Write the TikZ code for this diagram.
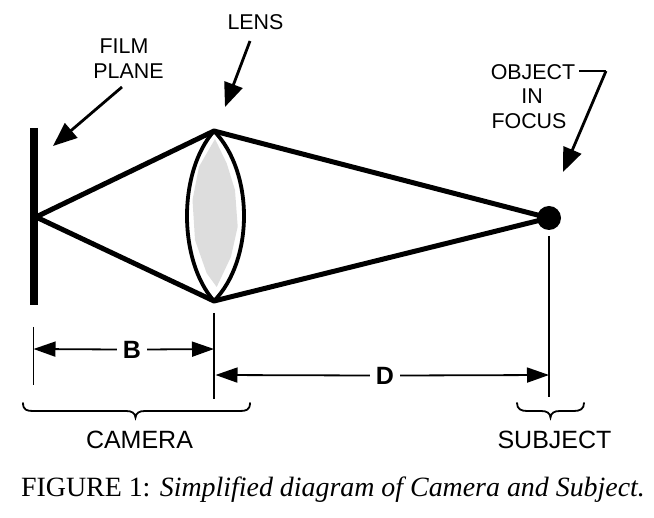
\documentclass[tikz,border=0pt]{standalone}
\usepackage{fontspec}
\setmainfont{Liberation Sans}
\newfontfamily\capfont{Liberation Serif}
\usetikzlibrary{arrows.meta}
\definecolor{lensgray}{HTML}{DDDDDD}
\tikzset{
  lbl/.style={inner sep=0pt,font=\fontsize{21.4}{23}\selectfont},
  dimlbl/.style={inner sep=0pt,font=\fontsize{25}{27}\selectfont\bfseries},
  ray/.style={line width=5pt,line join=round,line cap=round},
  lensedge/.style={line width=3.8pt},
  ext/.style={line width=1.8pt},
  dimhead/.style={line width=1.8pt},
  callout/.style={line width=2.8pt,-{Triangle[length=24pt,width=19pt]}},
  bracepath/.style={line width=1.8pt,line cap=round}
}
\begin{document}
\begin{tikzpicture}[x=1pt,y=-1pt]
\useasboundingbox (0,0) rectangle (654,518);
% named points
\coordinate (apex) at (36,217);
\coordinate (ltop) at (214,131);
\coordinate (lbot) at (214,301);
\coordinate (filmtop) at (34,128);
\coordinate (filmbot) at (34,305);
\coordinate (filmtip) at (53,146);
\coordinate (filmtail) at (122,87);
\coordinate (lenstip) at (225,107);
\coordinate (lenstail) at (250,41);
\coordinate (objstart) at (579,71);
\coordinate (objbend) at (606,71);
\coordinate (objtip) at (563,172);
\coordinate (e1a) at (33.5,327);
\coordinate (e1b) at (33.5,385);
\coordinate (e2a) at (214,313);
\coordinate (e2b) at (214,399);
\coordinate (e3a) at (549,236);
\coordinate (e3b) at (549,397);
\coordinate (ba) at (33.5,349);
\coordinate (bb) at (214,349);
\coordinate (da) at (215.5,375);
\coordinate (db) at (549,375);
% lens
\fill[lensgray] (215,139) -- (226.7,163.3) -- (235,190) -- (237.7,226.7) -- (231,256.7)
  -- (216.7,287) -- (206.7,273.3) -- (195,240) -- (192.5,200) -- (199,166.7) -- cycle;
\draw[lensedge] (ltop) .. controls (178,172) and (178,260) .. (lbot);
\draw[lensedge] (ltop) .. controls (254,172) and (254,260) .. (lbot);
% film plane
\draw[line width=8.5pt] (filmtop) -- (filmbot);
% subject
\node[circle,fill=black,minimum size=24pt,inner sep=0pt] (subj) at (549,218) {};
% rays
\draw[ray] (apex) -- (ltop) -- (subj.center) -- (lbot) -- cycle;
% callouts
\draw[callout] (filmtail) -- (filmtip);
\draw[callout] (lenstail) -- (lenstip);
\draw[line width=2pt] (objstart) -- (objbend);
\draw[callout] (objbend) -- (objtip);
% extension lines
\draw[ext] (e1a) -- (e1b);
\draw[ext] (e2a) -- (e2b);
\draw[ext] (e3a) -- (e3b);
% dimensions
\node[dimlbl] (B) at (132,349.5) {B};
\node[dimlbl] (D) at (385,375.5) {D};
\draw[dimhead,{Triangle[length=22pt,width=15pt]}-] (ba) -- ([xshift=-6pt]B.west);
\draw[dimhead,-{Triangle[length=22pt,width=15pt]}] ([xshift=6pt]B.east) -- (bb);
\draw[dimhead,{Triangle[length=22pt,width=15pt]}-] (da) -- ([xshift=-6pt]D.west);
\draw[dimhead,-{Triangle[length=22pt,width=15pt]}] ([xshift=6pt]D.east) -- (db);
% braces
\draw[bracepath] (23,403) .. controls (23,410) and (27,411) .. (33,411) -- (126,411)
  .. controls (132,411) and (135,413) .. (135.5,417.5)
  .. controls (136,413) and (139,411) .. (145,411) -- (240,411)
  .. controls (246,411) and (250,410) .. (250,403);
\draw[bracepath] (517,403) .. controls (517,409) and (521,411) .. (527,411) -- (541,411)
  .. controls (547,411) and (550,413) .. (550.5,417.5)
  .. controls (551,413) and (554,411) .. (560,411) -- (574,411)
  .. controls (580,411) and (584,409) .. (584,403);
% labels
\node[lbl] (film) at (124,46.5) {FILM};
\node[lbl] (plane) at (128.5,71.5) {PLANE};
\node[lbl] (lens) at (255.5,22) {LENS};
\node[lbl] (obj) at (533,72) {OBJECT};
\node[lbl] (in) at (532,96) {IN};
\node[lbl] (focus) at (529,121) {FOCUS};
\node[lbl,font=\fontsize{25}{27}\selectfont] (camera) at (139.5,440) {CAMERA};
\node[lbl,font=\fontsize{25}{27}\selectfont] (subject) at (554.5,440) {SUBJECT};
\node[inner sep=0pt,font=\capfont\fontsize{27.9}{30}\selectfont] (caption) at (333,490) {FIGURE 1: \textit{Simplified diagram of Camera and Subject.}};
\end{tikzpicture}
\end{document}
